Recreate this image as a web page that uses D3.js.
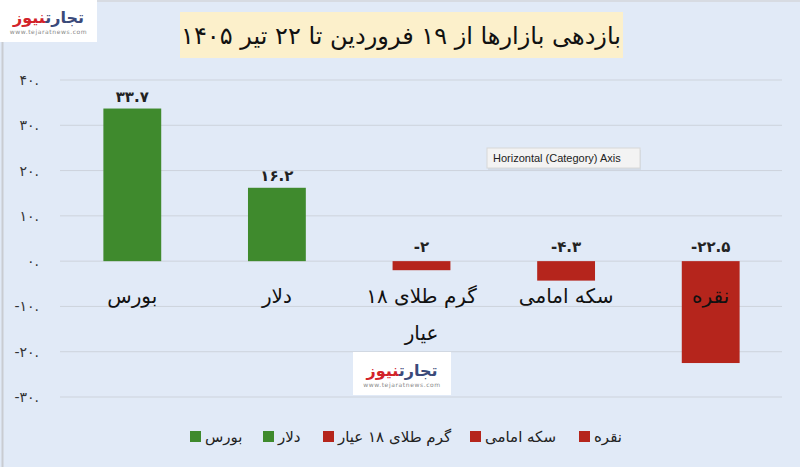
<!DOCTYPE html>
<html><head><meta charset="utf-8">
<script src="https://cdn.jsdelivr.net/npm/d3@7/dist/d3.min.js"></script>
<style>
html,body{margin:0;padding:0;background:#e1eaf7;}
svg{display:block;font-family:"DejaVu Sans",sans-serif;}
</style></head>
<body>
<script>
const title = "بازدهی بازارها از ۱۹ فروردین تا ۲۲ تیر ۱۴۰۵";
const categories = ["بورس", "دلار", "گرم طلای ۱۸ عیار", "سکه امامی", "نقره"];
const categoryLines = [["بورس"], ["دلار"], ["گرم طلای ۱۸", "عیار"], ["سکه امامی"], ["نقره"]];
const values = [33.7, 16.2, -2, -4.3, -22.5];
const valueLabels = ["۳۳.۷", "۱۶.۲", "-۲", "-۴.۳", "-۲۲.۵"];
const yTicks = [40, 30, 20, 10, 0, -10, -20, -30];
const yTickLabels = ["۴۰.", "۳۰.", "۲۰.", "۱۰.", "۰.", "-۱۰.", "-۲۰.", "-۳۰."];
const legendOrder = ["بورس", "دلار", "گرم طلای ۱۸ عیار", "سکه امامی", "نقره"];

const W = 800, H = 467;
const green = "#3f8a2d", red = "#b5251c";
const colorOf = v => v >= 0 ? green : red;

const svg = d3.select("body").append("svg").attr("width", W).attr("height", H);
svg.append("rect").attr("width", W).attr("height", H).attr("fill", "#e1eaf7");
svg.append("line").attr("x1", 2.5).attr("x2", 2.5).attr("y1", 0).attr("y2", H).attr("stroke", "#c9ccd2").attr("stroke-width", 2);
svg.append("line").attr("x1", 0).attr("x2", W).attr("y1", 1).attr("y2", 1).attr("stroke", "#d3d6db").attr("stroke-width", 1.5);

const x = d3.scaleBand().domain(categories).range([60, 783]).paddingInner(0.6).paddingOuter(0.3);
const y = d3.scaleLinear().domain([-30, 40]).range([397, 80]);

// gridlines
svg.append("g").selectAll("line").data(yTicks).join("line")
  .attr("x1", 60).attr("x2", 782).attr("y1", d => y(d)).attr("y2", d => y(d))
  .attr("stroke", "#cdd3dc").attr("stroke-width", 1);

// y axis labels
const yAxis = d3.axisLeft(y).tickValues(yTicks).tickSize(0).tickPadding(0)
  .tickFormat(d => yTickLabels[yTicks.indexOf(d)]);
const ya = svg.append("g").attr("transform", "translate(39,0)").call(yAxis);
ya.select(".domain").remove();
ya.selectAll("text").attr("font-size", 14).attr("fill", "#333").attr("font-family", "DejaVu Sans").style("direction", "ltr");

// bars
svg.append("g").selectAll("rect").data(values).join("rect")
  .attr("x", (d, i) => x(categories[i]))
  .attr("width", x.bandwidth())
  .attr("y", d => y(Math.max(0, d)))
  .attr("height", d => Math.abs(y(d) - y(0)))
  .attr("fill", colorOf);

// value labels
svg.append("g").selectAll("text").data(values).join("text")
  .attr("x", (d, i) => x(categories[i]) + x.bandwidth() / 2)
  .attr("y", d => d >= 0 ? y(d) - 7 : y(0) - 9)
  .attr("text-anchor", "middle").attr("font-size", 15).attr("font-weight", "bold")
  .attr("fill", "#222").style("direction", "ltr")
  .text((d, i) => valueLabels[i]);

// category labels
const cg = svg.append("g");
categoryLines.forEach((lines, i) => {
  lines.forEach((ln, j) => {
    cg.append("text")
      .attr("x", x(categories[i]) + x.bandwidth() / 2)
      .attr("y", 303 + j * 37)
      .attr("text-anchor", "middle").attr("font-size", 20).attr("fill", "#111")
      .text(ln);
  });
});

// title
svg.append("rect").attr("x", 180).attr("y", 12).attr("width", 443).attr("height", 46).attr("fill", "#fcf0cb");
svg.append("text").attr("x", 401).attr("y", 44).attr("text-anchor", "middle")
  .attr("font-size", 24).attr("fill", "#111").text(title);

// logos
function logo(x0, y0, w, h) {
  const g = svg.append("g").attr("transform", `translate(${x0},${y0})`);
  g.append("rect").attr("width", w).attr("height", h).attr("fill", "#fff");
  const t = g.append("text").attr("x", w / 2).attr("y", h * 0.55).attr("text-anchor", "middle")
    .attr("font-size", 16).attr("font-weight", "bold");
  t.append("tspan").attr("fill", "#3b4a7a").text("تجارت");
  t.append("tspan").attr("fill", "#d2232a").text("نیوز");
  g.append("text").attr("x", w / 2).attr("y", h * 0.82).attr("text-anchor", "middle")
    .attr("font-size", 6).attr("fill", "#888").attr("letter-spacing", 0.6).text("www.tejaratnews.com");
}
logo(0, 0, 97, 42);
logo(353, 352, 98, 43);

// tooltip
const tt = svg.append("g").attr("transform", "translate(487,148)");
tt.append("rect").attr("x", 1).attr("y", 2).attr("width", 153).attr("height", 20).attr("fill", "#c9d2de").attr("opacity", 0.6);
tt.append("rect").attr("width", 153).attr("height", 20).attr("fill", "#f3f3f3").attr("stroke", "#d8d8d8");
tt.append("text").attr("x", 6).attr("y", 14).attr("font-size", 11).attr("fill", "#222")
  .attr("font-family", "Liberation Sans, Arial").text("Horizontal (Category) Axis");

// legend
const legendX = [190, 263, 323, 470, 579];
const lg = svg.append("g");
legendOrder.forEach((name, i) => {
  const idx = categories.indexOf(name);
  lg.append("rect").attr("x", legendX[i]).attr("y", 431).attr("width", 11).attr("height", 11).attr("fill", colorOf(values[idx]));
  const t = lg.append("text").attr("y", 442).attr("text-anchor", "middle")
    .attr("font-size", 15).attr("fill", "#222").text(name);
  const len = t.node().getComputedTextLength();
  t.attr("x", legendX[i] + 15 + len / 2);
});
</script>
</body></html>
